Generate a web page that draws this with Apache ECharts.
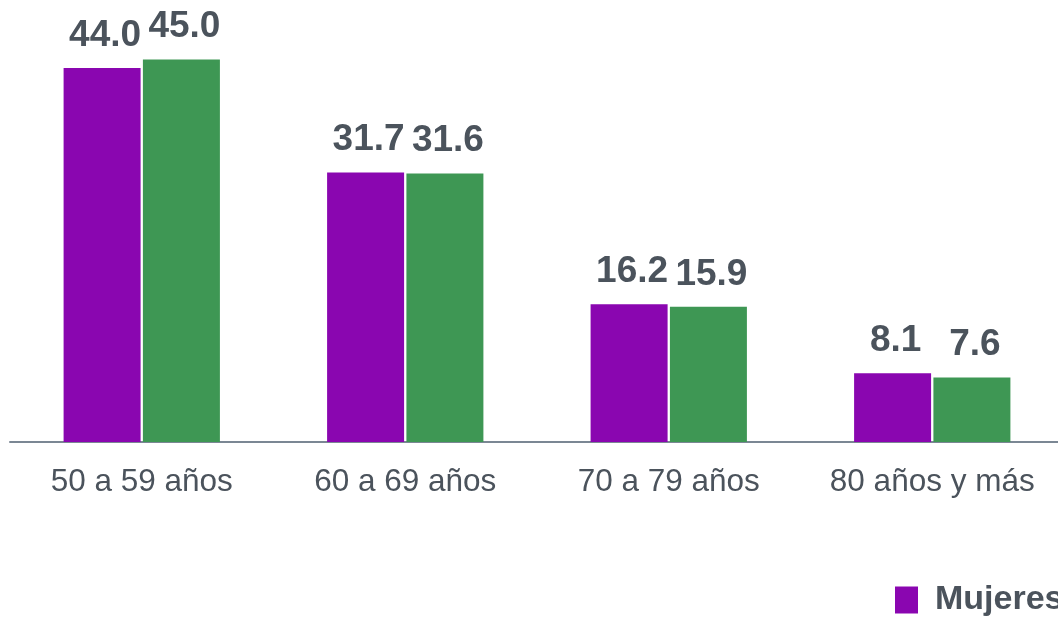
<!DOCTYPE html>
<html>
<head>
<meta charset="utf-8">
<script src="https://cdn.jsdelivr.net/npm/echarts@6/dist/echarts.min.js"></script>
<style>
  html, body { margin: 0; padding: 0; background: #fff; }
  #chart { width: 1058px; height: 619px; }
</style>
</head>
<body>
<div id="chart"></div>
<script>
const categories = ["50 a 59 años", "60 a 69 años", "70 a 79 años", "80 años y más"];
const mujeres = [44.0, 31.7, 16.2, 8.1];
const hombres = [45.0, 31.6, 15.9, 7.6];
const seriesNames = ["Mujeres", "Hombres"];

const textColor = "#4b535c";
const chart = echarts.init(document.getElementById("chart"));

const barLabel = {
  show: true,
  position: "top",
  distance: 14,
  offset: [3, 0],
  color: textColor,
  fontFamily: "Liberation Sans, Arial, sans-serif",
  fontWeight: "bold",
  fontSize: 37,
  formatter: (p) => p.value.toFixed(1),
};

chart.setOption({
  animation: false,
  grid: {
    left: 10,
    width: 1054,
    top: 0,
    height: 442,
    containLabel: false,
    outerBoundsMode: "none",
  },
  xAxis: {
    type: "category",
    data: categories,
    axisTick: { show: false },
    axisLine: { lineStyle: { color: "#7b8794", width: 2 } },
    axisLabel: {
      interval: 0,
      color: textColor,
      fontFamily: "Liberation Sans, Arial, sans-serif",
      fontSize: 31.5,
      margin: 24,
    },
  },
  yAxis: {
    type: "value",
    min: 0,
    max: 52,
    show: false,
    splitLine: { show: false },
  },
  legend: {
    data: seriesNames,
    left: 895,
    top: 583,
    padding: 0,
    itemWidth: 23,
    itemHeight: 27,
    itemGap: 40,
    icon: "rect",
    textStyle: {
      color: textColor,
      fontFamily: "Liberation Sans, Arial, sans-serif",
      fontWeight: "bold",
      fontSize: 34,
      padding: [0, 0, 0, 12],
    },
  },
  series: [
    {
      name: seriesNames[0],
      type: "bar",
      data: mujeres,
      barWidth: 77,
      barGap: "3%",
      itemStyle: { color: "#8a06b0" },
      label: barLabel,
    },
    {
      name: seriesNames[1],
      type: "bar",
      data: hombres,
      barWidth: 77,
      itemStyle: { color: "#3e9754" },
      label: barLabel,
    },
  ],
});
</script>
</body>
</html>
